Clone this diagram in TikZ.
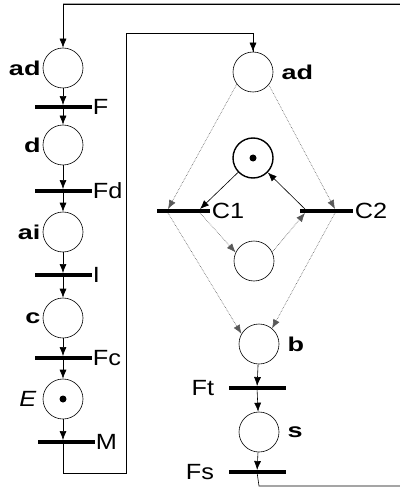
\documentclass[tikz,border=0pt]{standalone}
\usepackage{fontspec}
\setmainfont{Liberation Sans}[FakeStretch=1.15]
\newfontfamily\widesf{Liberation Sans}[FakeStretch=1.35]
\usetikzlibrary{arrows.meta}
\begin{document}
\begin{tikzpicture}[x=1pt,y=-1pt,
    pl/.style={circle,draw,minimum size=40pt,inner sep=0pt,line width=0.6pt},
    tr/.style={fill,minimum width=57pt,minimum height=3.5pt,inner sep=0pt},
    lab/.style={font=\fontsize{22}{26}\selectfont,inner sep=2pt},
    blab/.style={font=\fontsize{20}{24}\selectfont\widesf\bfseries,inner sep=2pt},
    arc/.style={-{Latex[length=9pt,width=7pt]},line width=0.6pt},
    darc/.style={arc,densely dotted,gray!70!black}]
    \useasboundingbox (0,0) rectangle (399,489);
    % left chain
    \foreach \p/\y/\t/\ty/\plab/\tlab in {p1/68/t1/107/ad/F,p2/145/t2/191/d/Fd,p3/232/t3/275/ai/I,p4/318/t4/358/c/Fc}{
        \node[pl,label={[blab]left:\plab}] (\p) at (63,\y) {};
        \node[tr,label={[lab,xshift=-1pt]right:\tlab}] (\t) at (63,\ty) {};
        \draw[arc] (\p) -- (\t);}
    \node[pl,label={[lab,xshift=-4pt]left:\textit{E}}] (p5) at (63,399) {};
    \node[tr,label={[lab,xshift=-1pt]right:M}] (t5) at (66,442) {};
    \draw[arc] (p5) -- (p5 |- t5.north);
    \foreach \t/\p in {t1/p2,t2/p3,t3/p4,t4/p5}{\draw[arc] (\t) -- (\p);}
    \fill (p5) circle (3.5pt);
    % right part
    \node[pl,label={[blab,xshift=6pt]right:ad}] (q1) at (253,72) {};
    \node[pl,line width=1.4pt] (q2) at (253,158) {};
    \fill (q2) circle (3.5pt);
    \node[tr,minimum width=53pt,label={[lab]right:C1}] (c1) at (183,211) {};
    \node[tr,minimum width=53pt,label={[lab]right:C2}] (c2) at (326,211) {};
    \node[pl] (q3) at (254,261) {};
    \node[pl,label={[blab,xshift=6pt]right:b}] (q4) at (259,344) {};
    \node[tr,label={[lab,xshift=-12pt]left:Ft}] (t6) at (257,388) {};
    \node[pl,label={[blab,xshift=6pt]right:s}] (q5) at (259,432) {};
    \node[tr,label={[lab,xshift=-12pt]left:Fs}] (t7) at (257,472) {};
    \coordinate (c1a) at ([xshift=-15pt]c1.north);
    \coordinate (c1b) at ([xshift=17pt]c1.north);
    \coordinate (c1c) at ([xshift=-15pt]c1.south);
    \coordinate (c1d) at ([xshift=17pt]c1.south);
    \coordinate (c2a) at ([xshift=-21pt]c2.north);
    \coordinate (c2b) at ([xshift=9pt]c2.north);
    \coordinate (c2c) at ([xshift=-21pt]c2.south);
    \coordinate (c2d) at ([xshift=9pt]c2.south);
    \draw[darc] (q1.217) -- (c1a);
    \draw[darc] (q1.321) -- (c2b);
    \draw[darc] (c1c) -- (q4.150);
    \draw[darc] (c2d) -- (q4.50);
    \draw[darc] (c1d) -- (q3.155);
    \draw[darc] (q3.26) -- (c2c);
    \draw[arc] (q2) -- (c1b);
    \draw[arc] (c2a) -- (q2);
    \draw[arc] (q4) -- (t6);
    \draw[arc] (t6) -- (q5);
    \draw[arc] (q5) -- (t7);
    % feedback lines
    \draw[line width=0.6pt] (p5 |- t5.south) -- (63,473) -- (126,473) -- (126,33) -- (253,33) -- (q1);
    \draw[arc] (126,33) -- (253,33) -- (q1);
    \draw[line width=0.6pt] (t7) -- (259,486) -- (410,486) -- (410,4) -- (63,4);
    \draw[arc] (410,4) -- (63,4) -- (p1);
\end{tikzpicture}
\end{document}
